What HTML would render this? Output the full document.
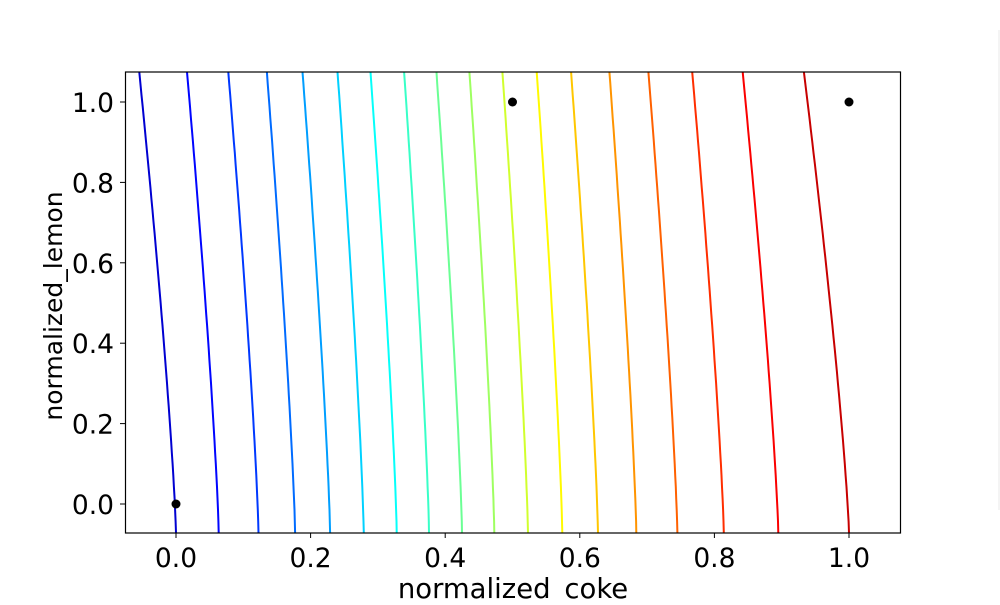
<!DOCTYPE html>
<html><head><meta charset="utf-8"><style>
body{margin:0;background:#fff}
svg text{font-family:"DejaVu Sans","Liberation Sans",sans-serif;fill:#000}
</style></head><body>
<svg id="c" width="1000" height="600" xmlns="http://www.w3.org/2000/svg">
<line x1="999" y1="30" x2="999" y2="510" stroke="#e8e8e8" stroke-width="1"/>
<g id="lines"></g>
<g id="pts"></g>
<rect x="125.5" y="72" width="775" height="461" fill="none" stroke="#000" stroke-width="1.2"/>
<g id="axes"></g>
<text x="513" y="598" font-size="27.5" text-anchor="middle">normalized_coke</text>
<text transform="translate(62,306) rotate(-90)" font-size="25" text-anchor="middle">normalized_lemon</text>
</svg>
<script>
const xTicks=[0,0.2,0.4,0.6,0.8,1.0];
const yTicks=[0,0.2,0.4,0.6,0.8,1.0];
const bottomX=[0,0.0635,0.1226,0.177,0.229,0.279,0.328,0.376,0.425,0.473,0.523,0.574,0.627,0.684,0.745,0.814,0.895,1.0];
const topX=[-0.0546,0.0164,0.0777,0.135,0.188,0.240,0.289,0.339,0.387,0.436,0.485,0.536,0.587,0.644,0.702,0.767,0.842,0.933];
const ptX=[0,0.5,1];
const ptY=[0,1,1];
const yMin=-0.072,yMax=1.0746;
const sx=v=>176+v*673, sy=v=>504-v*402;
const NS="http://www.w3.org/2000/svg";
function jet(t){const c=x=>Math.round(255*Math.max(0,Math.min(1,x)));
 return `rgb(${c(1.5-Math.abs(4*t-3))},${c(1.5-Math.abs(4*t-2))},${c(1.5-Math.abs(4*t-1))})`;}
const L=document.getElementById('lines');
bottomX.forEach((b,i)=>{
 const t0=topX[i];let d="";
 for(let k=0;k<=40;k++){const t=k/40;const yv=yMin+(yMax-yMin)*t;const xv=b+(t0-b)*Math.pow(t,1.25);
  d+=(k?"L":"M")+sx(xv).toFixed(1)+","+sy(yv).toFixed(1);}
 const p=document.createElementNS(NS,'path');p.setAttribute('d',d);p.setAttribute('fill','none');
 p.setAttribute('stroke',jet(0.08+0.85*i/(bottomX.length-1)));p.setAttribute('stroke-width','2');
 
 
 L.appendChild(p);});
const P=document.getElementById('pts');
ptX.forEach((x,i)=>{const c=document.createElementNS(NS,'circle');c.setAttribute('cx',sx(x));c.setAttribute('cy',sy(ptY[i]));c.setAttribute('r','4.5');
 
 
 P.appendChild(c);});
const A=document.getElementById('axes');
xTicks.forEach(v=>{const l=document.createElementNS(NS,'line');l.setAttribute('x1',sx(v));l.setAttribute('x2',sx(v));l.setAttribute('y1',533);l.setAttribute('y2',538);l.setAttribute('stroke','#000');
 
 
 A.appendChild(l);
 const t=document.createElementNS(NS,'text');t.setAttribute('x',sx(v));t.setAttribute('y',567);t.setAttribute('font-size','26.5');t.setAttribute('text-anchor','middle');t.textContent=v.toFixed(1);
 
 
 A.appendChild(t);});
yTicks.forEach(v=>{const l=document.createElementNS(NS,'line');l.setAttribute('x1',120);l.setAttribute('x2',125.5);l.setAttribute('y1',sy(v));l.setAttribute('y2',sy(v));l.setAttribute('stroke','#000');
 
 
 A.appendChild(l);
 const t=document.createElementNS(NS,'text');t.setAttribute('x',114);t.setAttribute('y',sy(v)+10);t.setAttribute('font-size','26.5');t.setAttribute('text-anchor','end');t.textContent=v.toFixed(1);
 
 
 A.appendChild(t);});
</script>
</body></html>
